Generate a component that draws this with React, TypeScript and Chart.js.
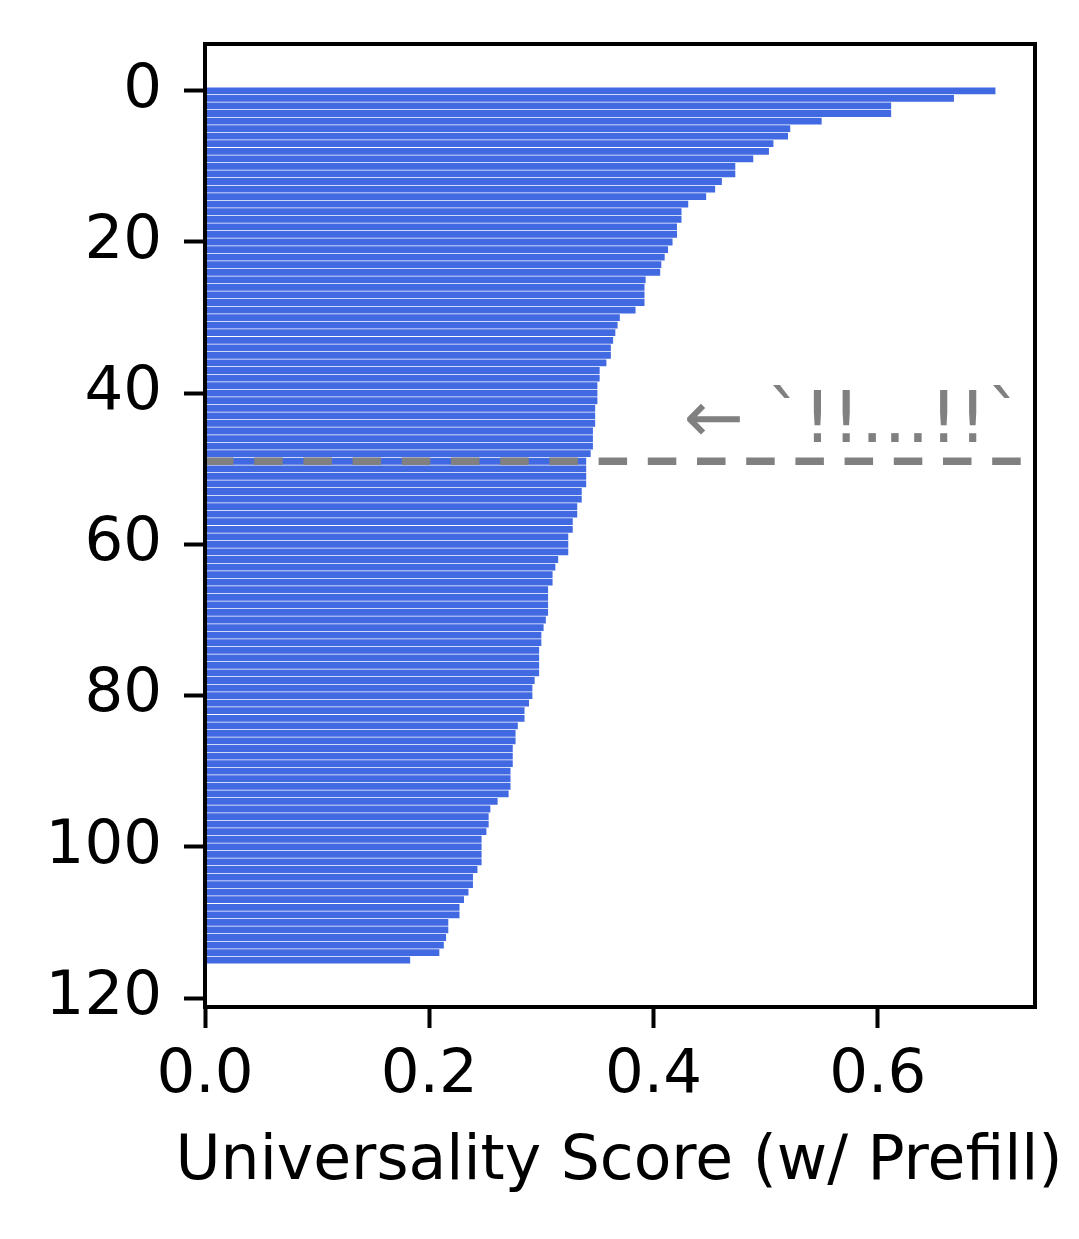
import React, { useEffect, useRef } from 'react';
import { Chart, registerables } from 'chart.js';

Chart.register(...registerables);

// Universality score per rank (rank 0 at top)
const scores = [
  0.705, 0.668, 0.612, 0.612, 0.55, 0.522, 0.52, 0.507, 0.503, 0.489,
  0.473, 0.473, 0.461, 0.455, 0.447, 0.431, 0.425, 0.425, 0.421, 0.421,
  0.417, 0.413, 0.41, 0.407, 0.406, 0.393, 0.392, 0.392, 0.392, 0.384,
  0.37, 0.368, 0.366, 0.364, 0.362, 0.362, 0.358, 0.352, 0.352, 0.35,
  0.35, 0.35, 0.348, 0.348, 0.348, 0.346, 0.346, 0.346, 0.344, 0.34,
  0.34, 0.34, 0.34, 0.336, 0.336, 0.332, 0.332, 0.328, 0.328, 0.324,
  0.324, 0.324, 0.315, 0.3125, 0.31, 0.31, 0.306, 0.306, 0.306, 0.306,
  0.304, 0.302, 0.3, 0.3, 0.298, 0.298, 0.298, 0.298, 0.294, 0.292,
  0.292, 0.289, 0.285, 0.285, 0.279, 0.277, 0.277, 0.2745, 0.2745, 0.2745,
  0.2725, 0.2725, 0.2725, 0.2708, 0.261, 0.2545, 0.253, 0.253, 0.251, 0.2467,
  0.2467, 0.2467, 0.2467, 0.243, 0.239, 0.239, 0.235, 0.231, 0.227, 0.227,
  0.217, 0.217, 0.215, 0.213, 0.209, 0.183,
];

const yTickValues = [0, 20, 40, 60, 80, 100, 120];
const xTickValues = [0, 0.2, 0.4, 0.6];
const xRange = [0, 0.7403];
const yRange = [-6.19, 121.19];
const xAxisTitle = 'Universality Score (w/ Prefill)';
const thresholdRank = 49;
const annotationText = '← `!!...!!`';
const annotationX = 0.427;
const annotationY = 46.4;

const BAR_COLOR = '#4169e1';
const GRAY = '#808080';
const FONT = '"DejaVu Sans", sans-serif';

const overlayPlugin = {
  id: 'overlay',
  afterDatasetsDraw(chart: any) {
    const { ctx, chartArea, scales } = chart;
    const y = scales.y.getPixelForValue(thresholdRank);
    ctx.save();
    ctx.strokeStyle = GRAY;
    ctx.lineWidth = 7.5;
    ctx.lineCap = 'butt';
    ctx.setLineDash([28.5, 20.7]);
    ctx.beginPath();
    ctx.moveTo(chartArea.left, y);
    ctx.lineTo(chartArea.right, y);
    ctx.stroke();
    ctx.setLineDash([]);
    ctx.fillStyle = GRAY;
    ctx.font = '72px ' + FONT;
    ctx.textAlign = 'left';
    ctx.textBaseline = 'alphabetic';
    ctx.fillText(
      annotationText,
      scales.x.getPixelForValue(annotationX),
      scales.y.getPixelForValue(annotationY)
    );
    ctx.restore();
  },
  afterDraw(chart: any) {
    const { ctx, chartArea } = chart;
    ctx.save();
    ctx.strokeStyle = '#000';
    ctx.lineWidth = 4;
    ctx.strokeRect(
      chartArea.left,
      chartArea.top,
      chartArea.right - chartArea.left,
      chartArea.bottom - chartArea.top
    );
    // x-axis title (drawn unconstrained: it is wider than the axis)
    ctx.fillStyle = '#000';
    ctx.font = '61.6px ' + FONT;
    ctx.textAlign = 'center';
    ctx.textBaseline = 'alphabetic';
    ctx.fillText(xAxisTitle, (chartArea.left + chartArea.right) / 2 - 1, chartArea.bottom + 172);
    ctx.restore();
  },
};

export default function App() {
  const ref = useRef<HTMLCanvasElement>(null);

  useEffect(() => {
    if (!ref.current) return;
    Chart.defaults.font.family = FONT;
    const chart = new Chart(ref.current, {
      type: 'bar',
      data: {
        datasets: [
          {
            data: scores.map((v, i) => ({ x: v, y: i })),
            backgroundColor: BAR_COLOR,
            borderWidth: 0,
            barPercentage: 0.9,
            categoryPercentage: 1,
          },
        ],
      },
      options: {
        indexAxis: 'y',
        responsive: false,
        animation: false,
        devicePixelRatio: 1,
        layout: { padding: { left: 0, top: 44, right: 44, bottom: 0 } },
        plugins: {
          legend: { display: false },
          tooltip: { enabled: false },
        },
        scales: {
          x: {
            type: 'linear',
            position: 'bottom',
            min: xRange[0],
            max: xRange[1],
            afterBuildTicks: (s: any) => {
              s.ticks = xTickValues.map((v) => ({ value: v }));
            },
            afterFit: (s: any) => {
              s.height = 232;
              s.paddingLeft = 0;
              s.paddingRight = 0;
            },
            grid: {
              display: true,
              drawOnChartArea: false,
              drawTicks: true,
              tickLength: 21,
              tickWidth: 4,
              tickColor: '#000',
              offset: false,
            },
            border: { display: false },
            ticks: {
              color: '#000',
              font: { size: 61, family: FONT },
              padding: 12,
              maxRotation: 0,
              autoSkip: false,
              callback: (v: any) => Number(v).toFixed(1),
            },
            title: { display: false },
          },
          y: {
            type: 'linear',
            position: 'left',
            reverse: true,
            offset: false,
            min: yRange[0],
            max: yRange[1],
            afterBuildTicks: (s: any) => {
              s.ticks = yTickValues.map((v) => ({ value: v }));
            },
            afterFit: (s: any) => {
              s.width = 205;
              s.paddingTop = 0;
              s.paddingBottom = 0;
            },
            grid: {
              display: true,
              drawOnChartArea: false,
              drawTicks: true,
              tickLength: 21,
              tickWidth: 4,
              tickColor: '#000',
              offset: false,
            },
            border: { display: false },
            ticks: {
              color: '#000',
              font: { size: 61, family: FONT },
              padding: 22,
              autoSkip: false,
              callback: (v: any) => String(v),
            },
          },
        },
      } as any,
      plugins: [overlayPlugin],
    });
    return () => chart.destroy();
  }, []);

  return (
    <div style={{ position: 'absolute', left: 0, top: 0, width: 1079, height: 1239, background: '#fff' }}>
      <canvas ref={ref} width={1079} height={1239} style={{ width: 1079, height: 1239, display: 'block' }} />
    </div>
  );
}
